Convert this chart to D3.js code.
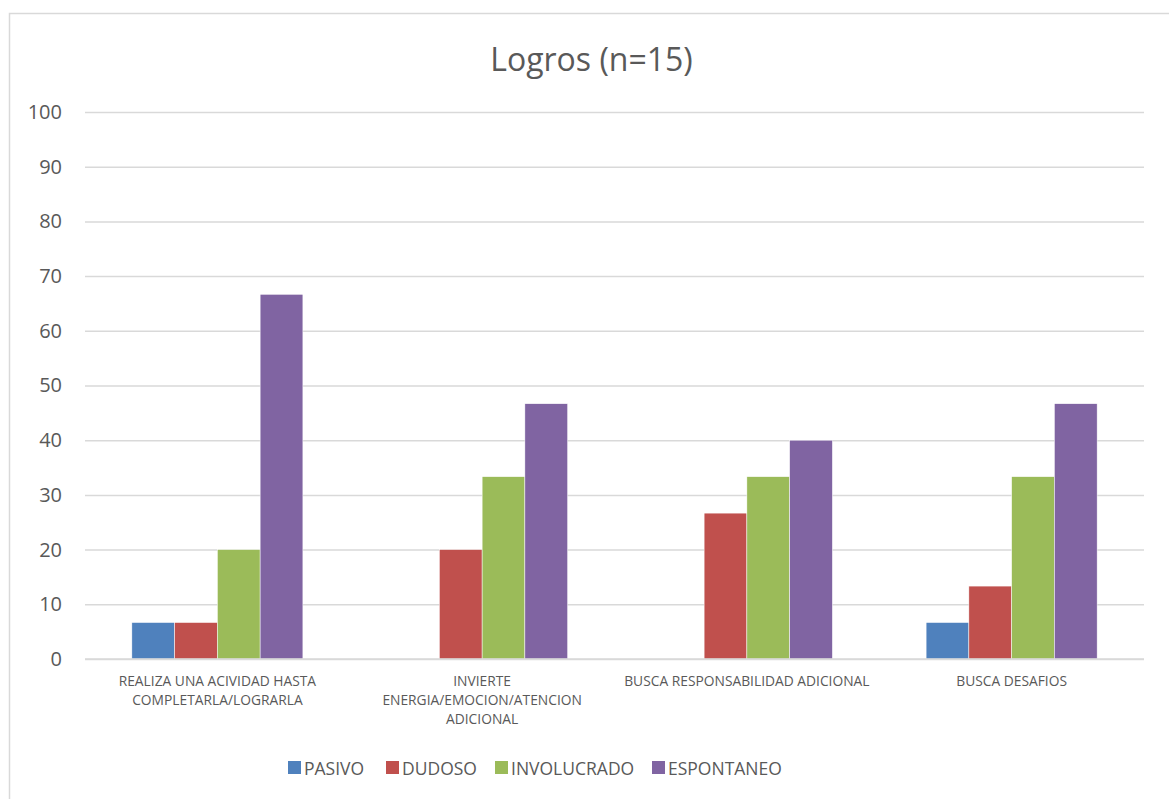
<!DOCTYPE html>
<html><head><meta charset="utf-8">
<script src="https://cdn.jsdelivr.net/npm/d3@7"></script>
<style>body{margin:0;background:#fff}svg{display:block}text{font-family:"Open Sans",sans-serif;fill:#595959}</style>
</head><body><svg id="c" width="1169" height="799"></svg>
<script>
const categories = [
  ["REALIZA UNA ACIVIDAD HASTA","COMPLETARLA/LOGRARLA"],
  ["INVIERTE","ENERGIA/EMOCION/ATENCION","ADICIONAL"],
  ["BUSCA RESPONSABILIDAD ADICIONAL"],
  ["BUSCA DESAFIOS"]
];
const seriesNames = ["PASIVO","DUDOSO","INVOLUCRADO","ESPONTANEO"];
const seriesColors = ["#4f81bd","#c0504d","#9bbb59","#8064a2"];
const pasivo = [6.67, 0, 0, 6.67];
const dudoso = [6.67, 20, 26.67, 13.33];
const involucrado = [20, 33.33, 33.33, 33.33];
const espontaneo = [66.67, 46.67, 40, 46.67];
const yTicks = [0,10,20,30,40,50,60,70,80,90,100];
const title = "Logros (n=15)";

const values = [pasivo, dudoso, involucrado, espontaneo];
const svg = d3.select("#c");
svg.append("rect").attr("x",9.5).attr("y",13.5).attr("width",1170).attr("height",800)
  .attr("fill","#fff").attr("stroke","#d9d9d9").attr("stroke-width",1.5);

const x0 = d3.scaleBand().domain(d3.range(categories.length)).range([85,1144]).paddingInner(0.354).paddingOuter(0.177);
const x1 = d3.scaleBand().domain(d3.range(seriesNames.length)).range([0,x0.bandwidth()]);
const y = d3.scaleLinear().domain([0,100]).range([659,112]);

const gy = svg.append("g").attr("transform","translate(85,0)")
  .call(d3.axisLeft(y).tickValues(yTicks).tickSize(-1059).tickPadding(23));
gy.select(".domain").remove();
gy.selectAll(".tick line").attr("stroke","#d9d9d9").attr("stroke-width",1.5);
gy.selectAll(".tick text").style("font-size","20px").style("font-family","'Open Sans',sans-serif").attr("fill","#595959");

const groups = svg.append("g").selectAll("g").data(categories).join("g")
  .attr("transform",(d,i)=>`translate(${x0(i)},0)`);
groups.selectAll("rect").data((d,i)=>values.map((s,j)=>({j,v:s[i]}))).join("rect")
  .attr("x",d=>x1(d.j)).attr("width",x1.bandwidth())
  .attr("y",d=>y(d.v)).attr("height",d=>y(0)-y(d.v))
  .attr("fill",d=>seriesColors[d.j]).attr("stroke","#fff").attr("stroke-width",0.5);

svg.append("line").attr("x1",85).attr("x2",1144).attr("y1",y(0)).attr("y2",y(0))
  .attr("stroke","#d9d9d9").attr("stroke-width",1.5);

categories.forEach((lines,i)=>{
  const cx = x0(i)+x0.bandwidth()/2;
  const t = svg.append("text").attr("text-anchor","middle").style("font-size","13.8px")
    .attr("x",cx).attr("y",686);
  lines.forEach((l,k)=>t.append("tspan").attr("x",cx).attr("dy",k?19:0).text(l));
});

svg.append("text").attr("x",591.5).attr("y",71).attr("text-anchor","middle")
  .style("font-size","32px").text(title);

const legX = [288,386,495,652];
const leg = svg.append("g").selectAll("g").data(seriesNames).join("g")
  .attr("transform",(d,i)=>`translate(${legX[i]},761)`);
leg.append("rect").attr("width",13).attr("height",13).attr("fill",(d,i)=>seriesColors[i]);
leg.append("text").attr("x",16).attr("y",14).style("font-size","17.5px").text(d=>d);
</script></body></html>
